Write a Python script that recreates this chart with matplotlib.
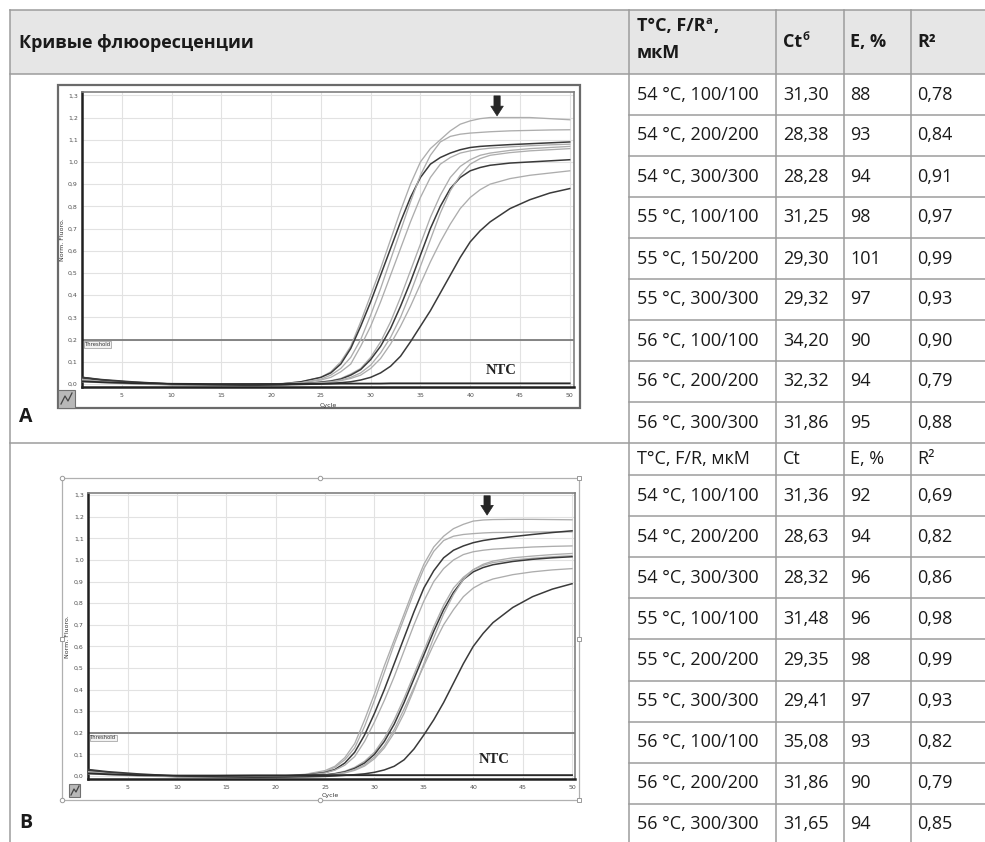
import matplotlib
matplotlib.use("Agg")
import matplotlib.pyplot as plt
from matplotlib.patches import Rectangle
from matplotlib.lines import Line2D

# ---------------- data ----------------
cycles = [1, 3, 6, 10, 14, 18, 21, 23, 25, 26, 27, 28, 29, 30, 31, 32, 33, 34,
          35, 36, 37, 38, 39, 40, 41, 42, 44, 46, 48, 50]

a1 = [0.020, 0.012, 0.004, -0.002, -0.004, -0.002, 0.002, 0.010, 0.030, 0.055, 0.100, 0.170, 0.280, 0.400, 0.520, 0.650, 0.780, 0.900, 1.000, 1.060, 1.100, 1.140, 1.170, 1.185, 1.195, 1.200, 1.200, 1.200, 1.195, 1.190]
a2 = [0.030, 0.018, 0.008, 0.000, -0.003, -0.003, 0.000, 0.010, 0.030, 0.050, 0.090, 0.160, 0.260, 0.370, 0.490, 0.610, 0.730, 0.840, 0.930, 0.990, 1.020, 1.040, 1.055, 1.065, 1.070, 1.073, 1.078, 1.082, 1.086, 1.090]
a3 = [0.015, 0.010, 0.003, -0.003, -0.005, -0.003, 0.001, 0.006, 0.022, 0.040, 0.070, 0.120, 0.200, 0.310, 0.430, 0.560, 0.690, 0.820, 0.940, 1.030, 1.090, 1.115, 1.125, 1.130, 1.133, 1.136, 1.140, 1.142, 1.144, 1.145]
a4 = [0.025, 0.015, 0.006, -0.001, -0.004, -0.004, -0.001, 0.005, 0.018, 0.030, 0.055, 0.090, 0.170, 0.260, 0.370, 0.490, 0.610, 0.730, 0.840, 0.930, 0.990, 1.020, 1.040, 1.050, 1.057, 1.062, 1.068, 1.073, 1.077, 1.080]
a5 = [0.010, 0.006, 0.000, -0.004, -0.006, -0.005, -0.003, 0.000, 0.010, 0.015, 0.025, 0.045, 0.070, 0.120, 0.190, 0.280, 0.390, 0.510, 0.630, 0.750, 0.850, 0.930, 0.980, 1.010, 1.030, 1.040, 1.052, 1.060, 1.065, 1.070]
a6 = [0.028, 0.016, 0.006, -0.002, -0.005, -0.005, -0.002, 0.000, 0.008, 0.013, 0.022, 0.040, 0.065, 0.110, 0.170, 0.250, 0.350, 0.460, 0.580, 0.700, 0.800, 0.880, 0.930, 0.960, 0.975, 0.985, 0.995, 1.000, 1.005, 1.010]
a7 = [0.012, 0.008, 0.002, -0.003, -0.006, -0.005, -0.003, 0.000, 0.006, 0.010, 0.018, 0.030, 0.050, 0.085, 0.140, 0.210, 0.300, 0.410, 0.530, 0.650, 0.770, 0.870, 0.940, 0.990, 1.015, 1.030, 1.042, 1.050, 1.055, 1.060]
a8 = [0.020, 0.012, 0.004, -0.002, -0.005, -0.005, -0.003, 0.000, 0.005, 0.008, 0.015, 0.025, 0.040, 0.070, 0.115, 0.180, 0.260, 0.350, 0.450, 0.550, 0.640, 0.720, 0.790, 0.840, 0.875, 0.900, 0.925, 0.940, 0.950, 0.960]
a9 = [0.030, 0.020, 0.010, 0.000, -0.004, -0.006, -0.004, -0.002, 0.000, 0.003, 0.006, 0.010, 0.018, 0.030, 0.050, 0.080, 0.125, 0.190, 0.260, 0.330, 0.410, 0.490, 0.570, 0.640, 0.690, 0.730, 0.790, 0.830, 0.860, 0.880]
ntc_a = [0.012, 0.008, 0.004, 0.001, 0.000, 0.000, 0.000, 0.001, 0.001, 0.001, 0.002, 0.002, 0.002, 0.002, 0.002, 0.003, 0.003, 0.003, 0.003, 0.003, 0.003, 0.003, 0.003, 0.003, 0.003, 0.003, 0.003, 0.003, 0.003, 0.003]

b1 = [0.020, 0.012, 0.004, -0.003, -0.005, -0.003, 0.001, 0.008, 0.025, 0.045, 0.085, 0.150, 0.260, 0.380, 0.510, 0.630, 0.750, 0.870, 0.980, 1.060, 1.110, 1.145, 1.165, 1.180, 1.185, 1.187, 1.188, 1.188, 1.187, 1.186]
b2 = [0.015, 0.010, 0.003, -0.003, -0.004, -0.003, 0.000, 0.006, 0.020, 0.040, 0.075, 0.130, 0.230, 0.350, 0.480, 0.610, 0.730, 0.850, 0.960, 1.040, 1.090, 1.110, 1.118, 1.122, 1.125, 1.127, 1.128, 1.129, 1.130, 1.130]
b3 = [0.025, 0.015, 0.006, -0.001, -0.004, -0.004, -0.001, 0.004, 0.016, 0.030, 0.060, 0.110, 0.190, 0.290, 0.400, 0.520, 0.640, 0.760, 0.870, 0.950, 1.010, 1.045, 1.065, 1.080, 1.090, 1.097, 1.108, 1.118, 1.127, 1.135]
b4 = [0.012, 0.008, 0.002, -0.003, -0.005, -0.004, -0.002, 0.003, 0.014, 0.027, 0.050, 0.090, 0.160, 0.250, 0.350, 0.460, 0.580, 0.700, 0.810, 0.900, 0.960, 1.000, 1.025, 1.038, 1.045, 1.050, 1.055, 1.060, 1.063, 1.065]
b5 = [0.010, 0.006, 0.000, -0.004, -0.006, -0.005, -0.003, -0.001, 0.006, 0.012, 0.022, 0.040, 0.068, 0.110, 0.175, 0.260, 0.360, 0.470, 0.580, 0.690, 0.790, 0.870, 0.920, 0.955, 0.975, 0.988, 1.000, 1.008, 1.015, 1.020]
b6 = [0.028, 0.016, 0.006, -0.002, -0.005, -0.005, -0.002, 0.000, 0.005, 0.010, 0.019, 0.035, 0.060, 0.100, 0.160, 0.240, 0.340, 0.450, 0.560, 0.670, 0.770, 0.850, 0.910, 0.945, 0.965, 0.978, 0.993, 1.003, 1.010, 1.015]
b7 = [0.012, 0.008, 0.002, -0.003, -0.006, -0.005, -0.003, -0.001, 0.004, 0.008, 0.016, 0.030, 0.052, 0.088, 0.140, 0.215, 0.310, 0.410, 0.510, 0.610, 0.700, 0.770, 0.830, 0.870, 0.895, 0.912, 0.932, 0.945, 0.954, 0.960]
b8 = [0.020, 0.012, 0.004, -0.002, -0.005, -0.005, -0.003, -0.001, 0.003, 0.007, 0.014, 0.026, 0.046, 0.080, 0.130, 0.200, 0.290, 0.400, 0.520, 0.640, 0.750, 0.840, 0.910, 0.955, 0.980, 0.995, 1.010, 1.018, 1.025, 1.030]
b9 = [0.030, 0.020, 0.010, 0.000, -0.004, -0.006, -0.005, -0.004, -0.002, 0.000, 0.003, 0.006, 0.010, 0.017, 0.028, 0.045, 0.075, 0.125, 0.190, 0.260, 0.340, 0.430, 0.520, 0.600, 0.660, 0.710, 0.780, 0.830, 0.865, 0.890]
ntc_b = [0.012, 0.008, 0.004, 0.002, 0.002, 0.003, 0.003, 0.004, 0.004, 0.004, 0.004, 0.004, 0.004, 0.004, 0.004, 0.004, 0.004, 0.004, 0.004, 0.004, 0.004, 0.004, 0.004, 0.004, 0.004, 0.004, 0.004, 0.004, 0.004, 0.004]

x_ticks = [5, 10, 15, 20, 25, 30, 35, 40, 45, 50]
y_ticks = [0.0, 0.1, 0.2, 0.3, 0.4, 0.5, 0.6, 0.7, 0.8, 0.9, 1.0, 1.1, 1.2, 1.3]
threshold = 0.2

conditions_a = ["54 °C, 100/100", "54 °C, 200/200", "54 °C, 300/300",
                "55 °C, 100/100", "55 °C, 150/200", "55 °C, 300/300",
                "56 °C, 100/100", "56 °C, 200/200", "56 °C, 300/300"]
ct_a = [31.30, 28.38, 28.28, 31.25, 29.30, 29.32, 34.20, 32.32, 31.86]
eff_a = [88, 93, 94, 98, 101, 97, 90, 94, 95]
r2_a = [0.78, 0.84, 0.91, 0.97, 0.99, 0.93, 0.90, 0.79, 0.88]

conditions_b = ["54 °C, 100/100", "54 °C, 200/200", "54 °C, 300/300",
                "55 °C, 100/100", "55 °C, 200/200", "55 °C, 300/300",
                "56 °C, 100/100", "56 °C, 200/200", "56 °C, 300/300"]
ct_b = [31.36, 28.63, 28.32, 31.48, 29.35, 29.41, 35.08, 31.86, 31.65]
eff_b = [92, 94, 96, 96, 98, 97, 93, 90, 94]
r2_b = [0.69, 0.82, 0.86, 0.98, 0.99, 0.93, 0.82, 0.79, 0.85]

# ---------------- styles ----------------
LIGHT = "#adadad"
DARK = "#3a3a3a"
colors_a = [LIGHT, DARK, LIGHT, LIGHT, LIGHT, DARK, LIGHT, LIGHT, DARK]
colors_b = [LIGHT, LIGHT, DARK, LIGHT, LIGHT, DARK, LIGHT, LIGHT, DARK]

W, H = 985, 842
fig = plt.figure(figsize=(W / 100, H / 100), dpi=100)
bg = fig.add_axes([0, 0, 1, 1])
bg.set_xlim(0, W)
bg.set_ylim(H, 0)
bg.axis("off")
renderer = fig.canvas.get_renderer()

FONT = ["Open Sans", "DejaVu Sans"]
FS = 13
LINE_C = "#9c9c9c"
LW = 1.1


def px_axes(x0, y0, x1, y1):
    return fig.add_axes([x0 / W, 1 - y1 / H, (x1 - x0) / W, (y1 - y0) / H])


def comma(v, nd=2):
    return f"{v:.{nd}f}".replace(".", ",")


# ---------------- table ----------------
L, C1, C2, C3, C4, R = 10, 629, 776, 844, 911, W
TOP, HB = 10, 74
A_rows = [74 + 41 * k for k in range(10)]
B_top = 443
B_rows = [475 + 41.1 * k for k in range(10)]

bg.add_patch(Rectangle((L, TOP), R - L, HB - TOP, fc="#e6e6e6", ec="none", zorder=0))
for y in [TOP, HB, B_top]:
    bg.add_line(Line2D([L, R], [y, y], color=LINE_C, lw=LW))
for y in A_rows[1:-1] + B_rows[:-1]:
    bg.add_line(Line2D([C1, R], [y, y], color=LINE_C, lw=LW))
for x in [L, C1, C2, C3, C4]:
    bg.add_line(Line2D([x, x], [TOP, H], color=LINE_C, lw=LW))


def txt(x, y, s, size=FS, weight="normal", **kw):
    return bg.text(x, y, s, fontsize=size, fontweight=weight, family=FONT,
                   va="center", ha="left", color="#1a1a1a", **kw)


def sup_after(t, s, dy=-5, size=8, weight="normal"):
    bb = t.get_window_extent(renderer=renderer)
    y = t.get_position()[1]
    return txt(bb.x1 + 0.5, y + dy, s, size=size, weight=weight)


# header A
txt(19, 43, "Кривые флюоресценции", weight="bold")
t1 = txt(C1 + 8, 26, "T°C, F/R", weight="bold")
s1 = sup_after(t1, "а", dy=-5, weight="bold")
bb = s1.get_window_extent(renderer=renderer)
txt(bb.x1 + 0.5, 26, ",", weight="bold")
txt(C1 + 8, 53, "мкМ", weight="bold")
t2 = txt(C2 + 7, 42, "Ct", weight="bold")
sup_after(t2, "б", dy=-5, weight="bold")
txt(C3 + 6, 42, "E, %", weight="bold")
txt(C4 + 6, 42, "R²", weight="bold")

for i in range(9):
    yc = (A_rows[i] + A_rows[i + 1]) / 2
    txt(C1 + 8, yc, conditions_a[i])
    txt(C2 + 7, yc, comma(ct_a[i]))
    txt(C3 + 6, yc, str(eff_a[i]))
    txt(C4 + 6, yc, comma(r2_a[i]))

# header B
yb = (B_top + B_rows[0]) / 2
txt(C1 + 8, yb, "T°C, F/R, мкМ")
txt(C2 + 7, yb, "Ct")
txt(C3 + 6, yb, "E, %")
txt(C4 + 6, yb, "R²")
for i in range(9):
    yc = (B_rows[i] + B_rows[i + 1]) / 2
    txt(C1 + 8, yc, conditions_b[i])
    txt(C2 + 7, yc, comma(ct_b[i]))
    txt(C3 + 6, yc, str(eff_b[i]))
    txt(C4 + 6, yc, comma(r2_b[i]))

txt(19, 417, "A", size=14, weight="bold")
txt(19, 823, "B", size=14, weight="bold")


# ---------------- plots ----------------
def panel(rect, xlim, ylim, curves, colors, ntc, arrow_x, ntc_xy, ylab_xy, xlab_xy):
    x0, y0, x1, y1 = rect
    ax = px_axes(*rect)
    ax.set_facecolor("white")
    for vals, col in zip(curves, colors):
        ax.plot(cycles, vals, color=col, lw=0.95 if col == LIGHT else 1.1, zorder=3)
    ax.plot(cycles, ntc, color="#2a2a2a", lw=1.3, zorder=3)
    ax.set_xlim(*xlim)
    ax.set_ylim(*ylim)
    ax.set_xticks(x_ticks)
    ax.set_xticklabels([str(v) for v in x_ticks])
    ax.set_yticks(y_ticks)
    ax.set_yticklabels([comma(v, 1) for v in y_ticks])
    ax.tick_params(length=0, labelsize=4.5, labelcolor="#505050", pad=4)
    ax.tick_params(axis="y", pad=3)
    ax.grid(True, color="#e2e2e2", lw=0.8)
    ax.set_axisbelow(True)
    for side in ["left", "bottom"]:
        ax.spines[side].set_color("#202020")
        ax.spines[side].set_linewidth(1.8)
    for side in ["top", "right"]:
        ax.spines[side].set_color("#808080")
        ax.spines[side].set_linewidth(1.2)
    ax.axhline(threshold, color="#7c7c7c", lw=1.3, zorder=2)
    ax.text(xlim[0] + 0.25, threshold - 0.012, "Threshold", fontsize=3.8, va="top",
            ha="left", color="#333",
            bbox=dict(boxstyle="square,pad=0.15", fc="#f2f2f2", ec="#999", lw=0.5))
    ax.text(ntc_xy[0], ntc_xy[1], "NTC", fontsize=10.5, fontweight="bold",
            family=["Liberation Serif", "DejaVu Serif"], ha="center", va="center",
            color="#222")
    ax.annotate("", xy=(arrow_x, 1.195), xytext=(arrow_x, 1.31),
                arrowprops=dict(arrowstyle="simple,head_width=0.9,tail_width=0.45,head_length=0.7",
                                fc="#262626", ec="#262626", lw=0.5), zorder=5)
    ax.set_ylabel("Norm. Fluoro.", fontsize=4.5, color="#333")
    ax.yaxis.set_label_coords((ylab_xy[0] - x0) / (x1 - x0), 1 - (ylab_xy[1] - y0) / (y1 - y0))
    ax.set_xlabel("Cycle", fontsize=4.5, color="#333")
    ax.xaxis.set_label_coords((xlab_xy[0] - x0) / (x1 - x0), -(xlab_xy[1] - y1) / (y1 - y0))
    ax.xaxis.label.set_va("center")
    return ax


# panel A: picture frame
bg.add_patch(Rectangle((58, 85), 522, 323, fc="white", ec="#6a6a6a", lw=1.6, zorder=1))
bg.add_patch(Rectangle((58, 390), 17, 18, fc="#b8b8b8", ec="#707070", lw=0.8, zorder=2))
bg.add_line(Line2D([61, 65, 68, 72], [404, 396, 401, 393], color="#444", lw=0.9, zorder=3))
panel((82, 92, 574, 387), (1, 50.43), (-0.0135, 1.315),
      [a1, a2, a3, a4, a5, a6, a7, a8, a9], colors_a, ntc_a,
      42.7, (43.1, 0.06), (65, 240), (328, 405))

# panel B: selection frame with handles
bg.add_patch(Rectangle((62, 478), 517, 322, fc="white", ec="#b0b0b0", lw=0.9, zorder=1))
for (hx, hy, mk) in [(62, 478, "o"), (320, 478, "o"), (579, 478, "s"), (579, 639, "s"),
                     (579, 800, "s"), (320, 800, "o"), (62, 800, "o"), (62, 639, "s")]:
    bg.plot([hx], [hy], marker=mk, ms=3.2, mfc="white", mec="#9a9a9a", mew=0.7, zorder=6)
bg.add_patch(Rectangle((69, 784), 11, 13, fc="#b8b8b8", ec="#707070", lw=0.8, zorder=2))
bg.add_line(Line2D([71, 74, 76, 79], [795, 789, 792, 786], color="#444", lw=0.9, zorder=3))
panel((88, 493, 575, 779), (1, 50.3), (-0.014, 1.31),
      [b1, b2, b3, b4, b5, b6, b7, b8, b9], colors_b, ntc_b,
      41.4, (42.1, 0.075), (70, 637), (330, 795))

fig.savefig("out.png", dpi=100)
